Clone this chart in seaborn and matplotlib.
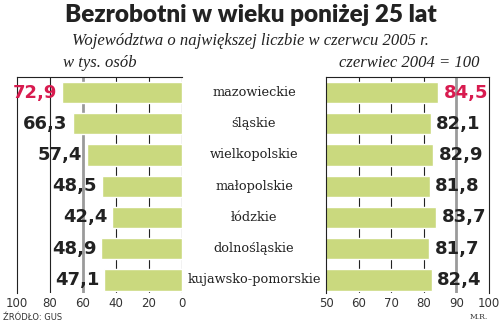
import matplotlib
matplotlib.use("Agg")
import matplotlib.pyplot as plt
import seaborn as sns
import pandas as pd

categories = ["mazowieckie", "śląskie", "wielkopolskie", "małopolskie",
              "łódzkie", "dolnośląskie", "kujawsko-pomorskie"]
thousands = [72.9, 66.3, 57.4, 48.5, 42.4, 48.9, 47.1]
index_2004 = [84.5, 82.1, 82.9, 81.8, 83.7, 81.7, 82.4]
left_ticks = [100, 80, 60, 40, 20, 0]
right_ticks = [50, 60, 70, 80, 90, 100]

sns.set_theme(style="white")
plt.rcParams["font.family"] = ["DejaVu Sans"]

BAR = "#cad97e"
RED = "#d81b4f"
DARK = "#222222"

df = pd.DataFrame({"cat": categories, "t": thousands, "i": index_2004})

W, H = 500, 323
fig = plt.figure(figsize=(W / 100, H / 100), dpi=100)

def px(x0, y0, x1, y1):
    return [x0 / W, 1 - y1 / H, (x1 - x0) / W, (y1 - y0) / H]

axL = fig.add_axes(px(17, 77, 182, 293))
axR = fig.add_axes(px(326, 77, 489, 293))

for ax, col in ((axL, "t"), (axR, "i")):
    sns.barplot(data=df, x=col, y="cat", orient="h", color=BAR,
                saturation=1, width=0.68, ax=ax, zorder=2)
    ax.set_ylim(6.42, -0.5)
    ax.set_xlabel("")
    ax.set_ylabel("")
    ax.set_yticks([])
    ax.tick_params(axis="x", length=0, pad=3, labelsize=8.5, labelcolor="#333333")
    for s in ax.spines.values():
        s.set_color(DARK)
        s.set_linewidth(0.8)
    ax.spines["bottom"].set_visible(False)

# left panel
axL.set_xlim(100, 0)
axL.set_xticks(left_ticks)
axL.spines["right"].set_visible(False)
for v in left_ticks[1:]:
    if v == 60:
        axL.axvline(v, color="#9a9a9a", lw=2, zorder=1)
    else:
        axL.axvline(v, color=DARK, lw=0.8, zorder=1)

# right panel
axR.set_xlim(50, 100)
axR.set_xticks(right_ticks)
for v in right_ticks[1:-1]:
    if v == 90:
        axR.axvline(v, color="#9a9a9a", lw=2, zorder=1)
    else:
        axR.axvline(v, color=DARK, lw=0.8, zorder=1)

def fmt(v):
    return f"{v:.1f}".replace(".", ",")

for ax, vals, pad in ((axL, thousands, 3.5), (axR, index_2004, 4)):
    texts = ax.bar_label(ax.containers[0], labels=[fmt(v) for v in vals],
                         padding=pad, fontsize=13, fontweight="bold",
                         color=DARK, family="DejaVu Sans")
    texts[0].set_color(RED)
    for t in texts:
        t.set_zorder(4)

# category labels in the middle
for i, c in enumerate(categories):
    y = 1 - (92.5 + i * 31.2) / H
    fig.text(254 / W, y, c, ha="center", va="center", fontsize=9.3,
             family="DejaVu Serif", color=DARK)

fig.text(251 / W, 1 - 15 / H, "Bezrobotni w wieku poniżej 25 lat", ha="center",
         va="center", fontsize=17.5, fontweight="heavy", family="Lato",
         color=DARK)
fig.text(0.5, 1 - 41 / H, "Województwa o największej liczbie w czerwcu 2005 r.",
         ha="center", va="center", fontsize=12, style="italic",
         family="Liberation Serif", color=DARK)
fig.text(100 / W, 1 - 63 / H, "w tys. osób", ha="center", va="center",
         fontsize=12, style="italic", family="Liberation Serif", color=DARK)
fig.text(409 / W, 1 - 63 / H, "czerwiec 2004 = 100", ha="center", va="center",
         fontsize=12, style="italic", family="Liberation Serif", color=DARK)
fig.text(3 / W, 1 - 317 / H, "ŹRÓDŁO: GUS", ha="left", va="center",
         fontsize=6, color="#333333")
fig.text(470 / W, 1 - 317 / H, "M.R.", ha="left", va="center",
         fontsize=5.5, family="DejaVu Serif", color="#333333")

fig.savefig("out.png", dpi=100)
